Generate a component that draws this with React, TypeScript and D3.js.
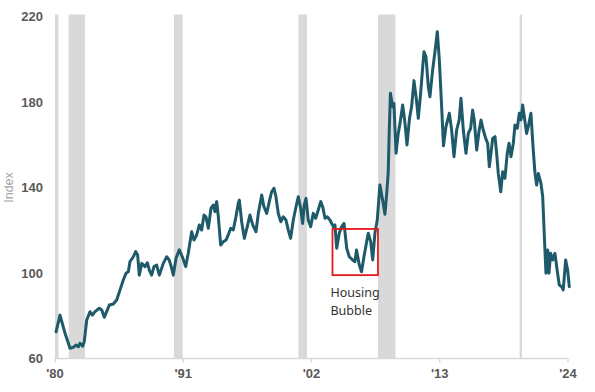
import React from 'react'
import * as d3 from 'd3'

// decimal year of each reading, and the index value
const years = [
  1980.09, 1980.43, 1980.86, 1981.29, 1981.57, 1981.8, 1982.0, 1982.14, 1982.38, 1982.51,
  1982.72, 1983.0, 1983.2, 1983.43, 1983.8, 1984.01, 1984.23, 1984.43, 1984.66, 1985.0,
  1985.29, 1985.57, 1985.86, 1986.09, 1986.29, 1986.43, 1986.72, 1986.92, 1987.09, 1987.23,
  1987.44, 1987.72, 1987.92, 1988.09, 1988.29, 1988.49, 1988.72, 1988.95, 1989.29, 1989.58,
  1989.8, 1990.01, 1990.15, 1990.38, 1990.66, 1990.92, 1991.21, 1991.43, 1991.72, 1991.92,
  1992.15, 1992.38, 1992.58, 1992.78, 1992.95, 1993.15, 1993.38, 1993.58, 1993.72, 1993.87,
  1994.01, 1994.21, 1994.43, 1994.67, 1994.86, 1995.07, 1995.29, 1995.52, 1995.72, 1995.81,
  1996.01, 1996.24, 1996.49, 1996.72, 1996.96, 1997.24, 1997.44, 1997.73, 1997.92, 1998.16,
  1998.38, 1998.58, 1998.78, 1998.95, 1999.15, 1999.36, 1999.58, 1999.81, 2000.01, 2000.21,
  2000.44, 2000.67, 2000.87, 2001.07, 2001.24, 2001.38, 2001.53, 2001.72, 2001.93, 2002.15,
  2002.36, 2002.58, 2002.79, 2002.96, 2003.16, 2003.35, 2003.58, 2003.87, 2004.01, 2004.16,
  2004.38, 2004.59, 2004.79, 2005.02, 2005.24, 2005.53, 2005.73, 2005.86, 2006.1, 2006.29,
  2006.5, 2006.73, 2006.87, 2007.08, 2007.25, 2007.44, 2007.64, 2007.87, 2008.1, 2008.3,
  2008.45, 2008.58, 2008.67, 2008.77, 2008.96, 2009.07, 2009.25, 2009.44, 2009.59, 2009.82,
  2010.02, 2010.19, 2010.4, 2010.59, 2010.79, 2011.0, 2011.16, 2011.36, 2011.54, 2011.65,
  2011.82, 2012.02, 2012.16, 2012.39, 2012.59, 2012.79, 2012.96, 2013.16, 2013.32, 2013.53,
  2013.82, 2014.02, 2014.22, 2014.45, 2014.67, 2014.82, 2015.02, 2015.25, 2015.45, 2015.65,
  2015.82, 2015.96, 2016.17, 2016.36, 2016.54, 2016.73, 2016.94, 2017.11, 2017.25, 2017.39,
  2017.54, 2017.74, 2017.88, 2018.02, 2018.23, 2018.4, 2018.59, 2018.79, 2018.94, 2019.11,
  2019.31, 2019.45, 2019.65, 2019.82, 2019.97, 2020.11, 2020.25, 2020.45, 2020.59, 2020.82,
  2021.02, 2021.17, 2021.31, 2021.45, 2021.68, 2021.83, 2021.96, 2022.11, 2022.26, 2022.37,
  2022.51, 2022.68, 2022.88, 2023.03, 2023.25, 2023.46, 2023.59, 2023.8, 2023.97, 2024.11,
]
const index = [
  72.5, 80.3, 71.8, 64.8, 65.2, 66.3, 65.5, 67.1, 65.8, 67.9,
  78, 81.9, 80.3, 81.9, 83.5, 82.7, 79.3, 81.9, 85, 85.5,
  87.4, 92, 96.7, 99.9, 100.6, 105.3, 107.6, 110, 108.4, 99,
  104.5, 103, 104.8, 101.4, 99, 103, 103.7, 99, 104.5, 107.6,
  106, 102.2, 99, 106.9, 110.8, 107.6, 103, 109.2, 119.3, 115.4,
  117.8, 122.5, 120.1, 127.1, 126.3, 120.9, 130.3, 131.8, 128.7, 133.4,
  126.3, 113.1, 114.6, 115.4, 117.8, 120.9, 120.1, 126.3, 132.6, 134.1,
  124, 116.2, 121.7, 127.1, 122.5, 119.3, 127.9, 136.5, 131, 127.9,
  133.4, 138, 139.6, 135.7, 127.9, 124, 126.3, 124.8, 120.1, 116.2,
  124.8, 131, 135.7, 130.3, 123.2, 131.8, 134.9, 124.8, 121.7, 127.9,
  125.6, 129.5, 133.4, 131, 125.6, 126.3, 124.8, 121.7, 122.5, 111.6,
  118.6, 121.7, 123.2, 111.6, 107.6, 106.1, 105.3, 110.8, 103.7, 100.6,
  107.6, 114.6, 118.6, 114.6, 106.1, 118.6, 124.8, 141.2, 134.1, 127.5,
  137.3, 147, 166.9, 184.1, 177.8, 179.4, 156, 165.3, 170, 178.6,
  170, 159.9, 172, 178, 190, 181, 172.4, 184, 196.5, 203.5,
  201, 187.1, 182.5, 195, 203.5, 212.9, 200, 178, 159.5, 168.4,
  174.7, 166.9, 154.4, 166.9, 171.6, 181.7, 166.9, 156, 165.3, 167.7,
  176.2, 171.6, 157.5, 166.1, 171.6, 166.9, 163, 160.7, 149.7, 156,
  163, 163.8, 156, 146.6, 138, 147.4, 144.3, 156, 160.7, 154.4,
  160.7, 169.2, 167.7, 174.7, 171.6, 178.6, 173.2, 165.3, 168.4, 174.7,
  157.5, 146.6, 141.2, 146.6, 142, 135.7, 118.6, 99.9, 110.8, 99.9,
  109.2, 106.1, 109.2, 102.9, 94.4, 93.6, 92.1, 106.1, 101.4, 93.6,
]

const recessionStart = [1980.0, 1981.17, 1990.2, 2000.88, 2007.7, 2019.85]
const recessionEnd = [1980.3, 1982.57, 1990.95, 2001.61, 2009.2, 2020.05]

const xTicks = [1980, 1991, 2002, 2013, 2024]
const yTicks = [60, 100, 140, 180, 220]

// the red "Housing Bubble" box, in data units
const bubbleYears = [2003.8, 2007.7]
const bubbleValues = [99, 120.6]

export default function App() {
  const width = 595
  const height = 392
  const x = d3.scaleLinear().domain([1980, 2024]).range([55, 568])
  const y = d3.scaleLinear().domain([60, 220]).range([358.5, 16.5])

  const pts = years.map((yr, i) => [yr, index[i]] as [number, number])
  const line = d3.line<[number, number]>()
    .x(d => x(d[0]))
    .y(d => y(d[1]))

  const tickFont = '"Liberation Sans", Arial, sans-serif'
  const bx0 = x(bubbleYears[0])
  const bx1 = x(bubbleYears[1])
  const by0 = y(bubbleValues[1])
  const by1 = y(bubbleValues[0])

  return (
    <svg width={width} height={height} style={{ position: 'absolute', left: 0, top: 0 }}>
      <rect width={width} height={height} fill="#fff" />
      {recessionStart.map((s, i) => (
        <rect key={i} x={x(s)} y={y(220) - 2} width={x(recessionEnd[i]) - x(s)}
          height={y(60) - y(220) + 2} fill="#d9d9d9" />
      ))}

      <line x1={x(1980)} x2={x(2024)} y1={y(60)} y2={y(60)} stroke="#d9d9d9" strokeWidth={1.5} />
      {xTicks.map(t => (
        <g key={t}>
          <line x1={x(t)} x2={x(t)} y1={y(60)} y2={y(60) + 4} stroke="#d9d9d9" strokeWidth={1.5} />
          <text x={x(t)} y={y(60) + 19} textAnchor="middle" fontFamily={tickFont}
            fontWeight="bold" fontSize={13} fill="#595959">
            {"'" + String(t).slice(2)}
          </text>
        </g>
      ))}
      {yTicks.map(t => (
        <text key={t} x={43} y={y(t) + 4.5} textAnchor="end" fontFamily={tickFont}
          fontWeight="bold" fontSize={13} fill="#595959">{t}</text>
      ))}
      <text transform={`translate(13,${y(140)}) rotate(-90)`} textAnchor="middle"
        fontFamily={tickFont} fontSize={12.5} fill="#a6a6a6">Index</text>

      <path d={line(pts) ?? ''} fill="none" stroke="#1e5a6a" strokeWidth={3}
        strokeLinejoin="round" strokeLinecap="round" />

      <rect x={bx0} y={by0} width={bx1 - bx0} height={by1 - by0} fill="none"
        stroke="#e8191c" strokeWidth={1.8} />
      <text x={bx0 - 2} y={by1 + 22} fontFamily='"Noto Sans", "Open Sans", sans-serif'
        fontSize={12.5} fill="#333">Housing</text>
      <text x={bx0 - 2} y={by1 + 40} fontFamily='"Noto Sans", "Open Sans", sans-serif'
        fontSize={12.5} fill="#333">Bubble</text>
    </svg>
  )
}
